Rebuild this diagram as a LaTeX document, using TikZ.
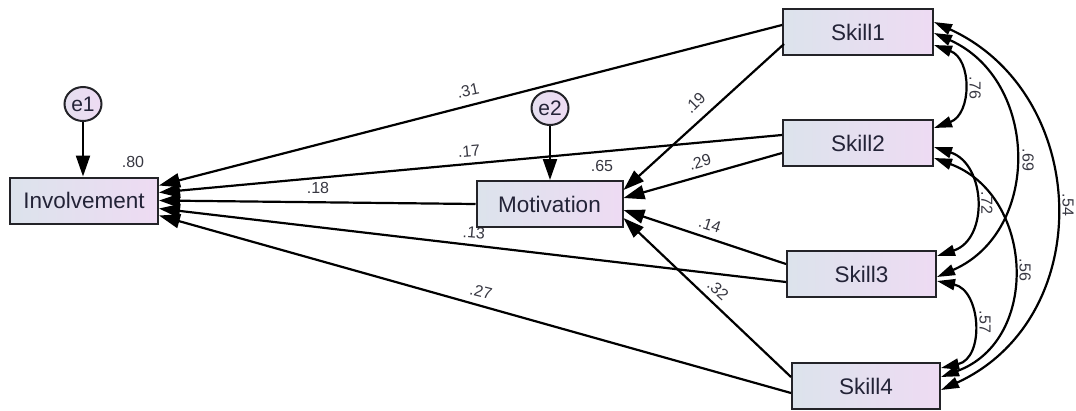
\documentclass[tikz,border=0pt]{standalone}
\usepackage{fontspec}
\setmainfont{Liberation Sans}
\usetikzlibrary{arrows.meta,calc,shapes.geometric}
\definecolor{boxL}{RGB}{220,227,236}
\definecolor{boxR}{RGB}{238,219,243}
\definecolor{edgec}{RGB}{35,35,40}
\definecolor{txt}{RGB}{35,35,55}
\definecolor{lbl}{RGB}{55,55,65}
\begin{document}
\begin{tikzpicture}[x=1pt,y=-1pt,
  var/.style={draw=edgec, line width=2pt, left color=boxL, right color=boxR, minimum width=148pt, minimum height=46pt, inner sep=0pt, text=txt, font=\fontsize{22.5}{22.5}\selectfont},
  err/.style={ellipse, draw=edgec, line width=2pt, left color=boxL!50!boxR, right color=boxR, minimum width=37pt, minimum height=34pt, inner sep=0pt, text=txt, font=\fontsize{21}{21}\selectfont},
  arr/.style={line width=2.2pt, draw=black, -{Triangle[length=21pt,width=14pt]}},
  cov/.style={line width=2.2pt, draw=black, {Triangle[length=18pt,width=11pt]}-{Triangle[length=18pt,width=11pt]}},
  lab/.style={text=lbl, font=\fontsize{16}{16}\selectfont, inner sep=0pt}]
\useasboundingbox (0,0) rectangle (1076,410);
% labels under the boxes
\node[lab, rotate=-5] (l13) at (474,233) {.13};
% nodes
\node[var] (inv) at (84,200.5) {Involvement};
\node[var, minimum width=146pt] (mot) at (549.5,204) {Motivation};
\node[var, minimum width=150pt] (s1) at (858,32) {Skill1};
\node[var, minimum width=150pt] (s2) at (858,143) {Skill2};
\node[var, minimum width=149pt] (s3) at (861.5,274) {Skill3};
\node[var] (s4) at (866,386) {Skill4};
\node[err] (e1) at (83,104) {e1};
\node[err] (e2) at (550,108) {e2};
% error arrows
\draw[arr] (e1.south) -- (e1.south |- inv.north);
\draw[arr] (e2.south) -- (e2.south |- mot.north);
% paths to Involvement
\draw[arr] ($(s1.west)+(0,-7)$) -- ($(inv.east)+(0,-15)$);
\draw[arr] ($(s2.west)+(0,-8)$) -- ($(inv.east)+(0,-8)$);
\draw[arr] (mot.west) -- (inv.east);
\draw[arr] ($(s3.west)+(0,8)$) -- ($(inv.east)+(0,8)$);
\draw[arr] ($(s4.west)+(0,7)$) -- ($(inv.east)+(0,15)$);
% paths to Motivation
\draw[arr] ($(s1.west)+(2,12)$) -- ($(mot.east)+(0,-14)$);
\draw[arr] ($(s2.west)+(0,10)$) -- ($(mot.east)+(0,-6)$);
\draw[arr] ($(s3.west)+(0,-10)$) -- ($(mot.east)+(0,6)$);
\draw[arr] ($(s4.west)+(0,-9)$) -- ($(mot.east)+(0,14)$);
% covariances
\draw[cov] ($(s1.east)+(0,13)$) .. controls (972,59) and (972,114) .. ($(s2.east)+(0,-15)$);
\draw[cov] ($(s1.east)+(0,1)$) .. controls (1039,80) and (1042,231) .. ($(s3.east)+(0,3)$);
\draw[cov] ($(s1.east)+(0,-10)$) .. controls (1091,94) and (1098,318) .. ($(s4.east)+(0,4)$);
\draw[cov] ($(s2.east)+(0,4)$) .. controls (986,164) and (989,239) .. ($(s3.east)+(0,-18)$);
\draw[cov] ($(s2.east)+(0,15)$) .. controls (1034,195) and (1041,340) .. ($(s4.east)+(0,-9)$);
\draw[cov] ($(s3.east)+(0,7)$) .. controls (981,290) and (985,358) .. ($(s4.east)+(0,-18)$);
% labels
\node[lab] (l80) at (133,162) {.80};
\node[lab] (l65) at (602,166) {.65};
\node[lab, rotate=12] (l31) at (468,91) {.31};
\node[lab, rotate=5] (l17) at (469,151) {.17};
\node[lab] (l18) at (318,188) {.18};
\node[lab, rotate=-14] (l27) at (481,292) {.27};
\node[lab, rotate=45] (l19) at (695,103) {.19};
\node[lab, rotate=16] (l29) at (700,162) {.29};
\node[lab, rotate=-18] (l14) at (710,225) {.14};
\node[lab, rotate=-42] (l32) at (718,290) {.32};
\node[lab, rotate=-90] (l76) at (975,88) {.76};
\node[lab, rotate=-90] (l69) at (1028,160) {.69};
\node[lab, rotate=-90] (l54) at (1068,205) {.54};
\node[lab, rotate=-90] (l72) at (987,203) {.72};
\node[lab, rotate=-90] (l56) at (1025,270) {.56};
\node[lab, rotate=-90] (l57) at (985,322) {.57};
\end{tikzpicture}
\end{document}
